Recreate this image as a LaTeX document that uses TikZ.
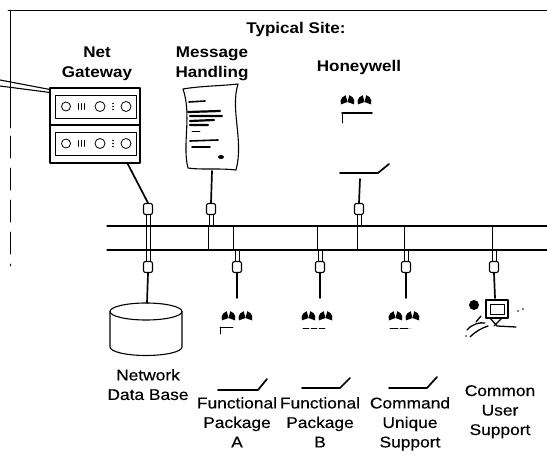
\documentclass[tikz,border=0pt]{standalone}
\usepackage{fontspec}
\setmainfont{Liberation Sans}
\newfontfamily\labelfont{Liberation Sans}[FakeStretch=1.12,FakeBold=0.4]
\newfontfamily\headfont{Liberation Sans}[FakeStretch=1.1]
\tikzset{
  reelpair/.pic={
    \foreach \dx in {-8.5,8.5}{
      \fill (\dx,0) -- ++(160:7) arc[start angle=160,end angle=255,radius=7] -- cycle;
      \fill (\dx,0) -- ++(285:7) arc[start angle=285,end angle=380,radius=7] -- cycle;
    }
  }
}
\begin{document}
\begin{tikzpicture}[x=1pt,y=-1pt,line cap=round,line join=round,
  frame/.style={line width=0.9pt},
  bus/.style={line width=1.3pt},
  heavy/.style={line width=1.7pt},
  thin/.style={line width=0.8pt},
  tapbox/.style={draw,line width=1.1pt,rounded corners=2pt,minimum width=9pt,
    minimum height=11pt,inner sep=0pt,fill=white},
  head/.style={font=\headfont\bfseries\fontsize{15.5}{20}\selectfont,align=center,
    inner sep=0pt,anchor=north},
  lab/.style={font=\labelfont\fontsize{15.5}{19.5}\selectfont,align=center,
    inner sep=0pt,anchor=north}]
\useasboundingbox (0,0) rectangle (547,458);

% site frame
\draw[frame] (8,10) -- (547,10);
\draw[frame] (10,10) -- (10,128);
\draw[frame,dash pattern=on 22pt off 10pt] (10,136) -- (10,266);

% ---------- net gateway ----------
\node[draw,line width=1.2pt,minimum width=90pt,minimum height=75pt,inner sep=0pt] (gw) at (95,125.5) {};
\draw[line width=1.2pt] (50,125) -- (140,125);
\draw[line width=1pt] (55,95) rectangle (136,118);
\draw[line width=1pt] (55,132) rectangle (136,155);
\foreach \yy in {106.5,143.5}{
  \draw[thin] (66,\yy) circle (4.5);
  \draw[thin] (78,\yy-3) -- (78,\yy+3) (81,\yy-3) -- (81,\yy+3) (84,\yy-3) -- (84,\yy+3);
  \draw[thin] (100,\yy) circle (5);
  \fill (113,\yy-3) circle (0.8) (113,\yy) circle (0.8) (113,\yy+3) circle (0.8);
  \draw[thin] (126,\yy) circle (5);
}
\coordinate (inA) at (0,80);
\coordinate (inB) at (0,86);
\draw[line width=1.1pt] (inA) -- ([yshift=-2pt]gw.north west);
\draw[line width=1.1pt] (inB) -- ([yshift=-5pt]gw.north west);

% ---------- message handling page ----------
\draw[line width=1.1pt,fill=white] (183,89) .. controls (200,86) and (220,86) .. (238,84)
  .. controls (230,110) and (244,140) .. (236,170)
  .. controls (220,168) and (200,170) .. (188,168)
  .. controls (182,145) and (192,115) .. cycle;
\draw[line width=1.6pt] (189,102) -- (205,101);
\draw[line width=2.2pt] (188,112) -- (220,111) (190,116) -- (222,116) (190,121) -- (214,120) (190,125) -- (208,125);
\draw[thin] (192,131) -- (200,131);
\draw[line width=1.6pt] (190,141) -- (218,140) (192,147) -- (210,147);
\fill (221,157) ellipse [x radius=3,y radius=2];
\coordinate (msgfoot) at (212,171);

% ---------- honeywell host ----------
\pic at (356,102) {reelpair};
\draw[heavy] (342,113) -- (372,113);
\draw[thin] (342,113) -- (342,123);
\draw[heavy] (340,173) -- (378,173) -- (389,164);
\coordinate (hwfoot) at (360,179);

% ---------- buses ----------
\coordinate (b1L) at (107,226);
\coordinate (b1R) at (547,226);
\coordinate (b2L) at (107,250);
\coordinate (b2R) at (547,250);
\draw[bus] (b1L) -- (b1R);
\draw[bus] (b2L) -- (b2R);

% tap boxes
\node[tapbox] (tGW) at (148,209) {};
\node[tapbox] (tMH) at (211,209) {};
\node[tapbox] (tHW) at (359,209) {};
\node[tapbox] (tDB) at (148,267) {};
\node[tapbox] (tA) at (237,267) {};
\node[tapbox] (tB) at (320,267) {};
\node[tapbox] (tC) at (406,267) {};
\node[tapbox] (tU) at (494,267) {};

% drops from the upper devices
\draw[heavy] ([xshift=-13pt]gw.south east) -- (tGW.north);
\draw[heavy] (msgfoot) -- (tMH.north);
\draw[heavy] (hwfoot) -- (tHW.north);
\foreach \t in {tGW,tMH,tHW}{
  \draw[thin] ([xshift=-2pt]\t.south) -- ([xshift=-2pt]\t.south |- b1L);
  \draw[thin] ([xshift=2pt]\t.south) -- ([xshift=2pt]\t.south |- b1L);
}
% gateway tap spans both buses
\draw[thin] ([xshift=-2pt]tGW.south |- b1L) -- ([xshift=-2pt]tDB.north);
\draw[thin] ([xshift=2pt]tGW.south |- b1L) -- ([xshift=2pt]tDB.north);
% drops to the lower devices
\foreach \t in {tA,tB,tC,tU}{
  \draw[thin] ([xshift=-2pt]\t.north) -- ([xshift=-2pt]\t.north |- b2L);
  \draw[thin] ([xshift=2pt]\t.north) -- ([xshift=2pt]\t.north |- b2L);
}
% bus-to-bus links
\foreach \xx in {208,233,317,357,404,492}{
  \draw[thin] (\xx,226) -- (\xx,250);
}

% ---------- network data base ----------
\coordinate (dbTop) at (147,303);
\draw[heavy] (tDB.south) -- (dbTop);
\draw[line width=1.1pt,fill=white] (110,311.5) -- (110,347)
  arc[start angle=180,end angle=0,x radius=36,y radius=8.5] -- (182,311.5);
\draw[line width=1.1pt] (146,311.5) ellipse [x radius=36,y radius=8.5];

% ---------- functional packages and command support ----------
\coordinate (aTop) at (237,298);
\coordinate (bTop) at (320,298);
\coordinate (cTop) at (406,298);
\coordinate (uTop) at (495,298);
\draw[heavy] (tA.south) -- (aTop);
\draw[heavy] (tB.south) -- (bTop);
\draw[heavy] (tC.south) -- (cTop);
\draw[heavy] (tU.south) -- (uTop);

\pic at (237,318) {reelpair};
\pic at (317,318) {reelpair};
\pic at (404,318) {reelpair};
\draw[thin] (220,327) -- (233,327) (220,327) -- (220,334);
\draw[thin,dash pattern=on 6pt off 2pt] (303,328) -- (326,328);
\draw[thin,dash pattern=on 8pt off 2pt] (390,328) -- (410,328);
\draw[heavy] (218,390) -- (258,390) -- (267,379);
\draw[heavy] (302,388) -- (340,388) -- (350,378);
\draw[heavy] (389,388) -- (427,388) -- (437,377);

% ---------- common user workstation ----------
\draw[line width=2pt] (486,300) rectangle (508,318);
\draw[thin] (490,304) rectangle (504,314);
\draw[line width=1.3pt] (490,318) -- (497,326) -- (516,327);
\draw[line width=1.3pt] (502,318) -- (494,326);
\fill (474,305) circle (5);
\draw[line width=1.3pt] (467,330) .. controls (472,324) and (480,322) .. (485,323);
\draw[line width=1.3pt] (470,337) .. controls (476,331) and (482,328) .. (488,326);
\draw[line width=1.3pt] (476,322) -- (481,316);
\fill (518,311) circle (0.9) (523,309) circle (0.9) (466,336) circle (0.8);

% ---------- labels ----------
\node[head] (ttl) at (296,22) {Typical Site:};
\node[head] (lgw) at (97,47) {Net\\Gateway};
\node[head] (lmh) at (212,47) {Message\\Handling};
\node[head] (lhw) at (359,60) {Honeywell};
\node[lab] (ldb) at (148,369) {Network\\Data Base};
\node[lab] (la) at (237,397) {Functional\\Package\\A};
\node[lab] (lb) at (320,397) {Functional\\Package\\B};
\node[lab] (lc) at (410,397) {Command\\Unique\\Support};
\node[lab] (lu) at (500,385) {Common\\User\\Support};
\end{tikzpicture}
\end{document}
